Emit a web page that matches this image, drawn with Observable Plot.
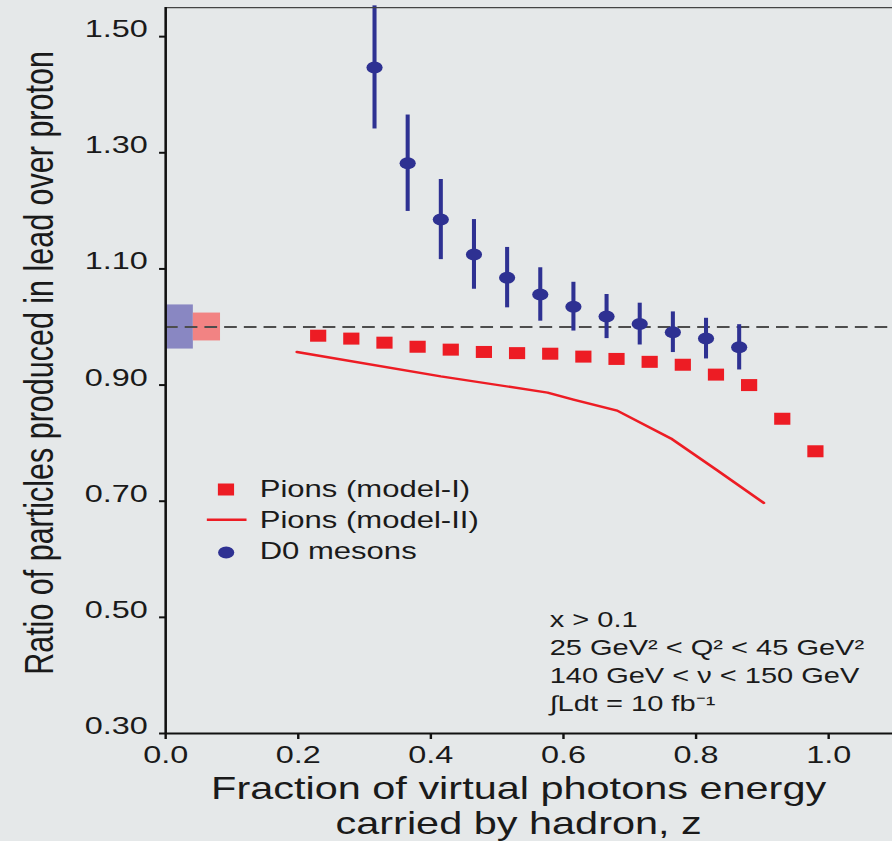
<!DOCTYPE html>
<html>
<head>
<meta charset="utf-8">
<script src="https://cdn.jsdelivr.net/npm/d3@7"></script>
<script src="https://cdn.jsdelivr.net/npm/@observablehq/plot@0.6"></script>
<style>
  html, body { margin: 0; padding: 0; background: #e5e8e9; }
  #chart { width: 892px; height: 841px; overflow: hidden; }
</style>
</head>
<body>
<div id="chart"></div>
<script>
// ---------- data ----------
const pionZ = [0.23, 0.28, 0.33, 0.38, 0.43, 0.48, 0.53, 0.58, 0.63, 0.68, 0.73, 0.78, 0.83, 0.88, 0.93, 0.98];
const pionRatio = [0.985, 0.980, 0.973, 0.966, 0.961, 0.957, 0.955, 0.954, 0.949, 0.945, 0.940, 0.935, 0.918, 0.900, 0.842, 0.786];

const model2Z = [0.198, 0.415, 0.576, 0.615, 0.681, 0.762, 0.832, 0.902];
const model2Ratio = [0.957, 0.915, 0.887, 0.875, 0.856, 0.808, 0.753, 0.697];

const d0Z = [0.315, 0.365, 0.415, 0.465, 0.515, 0.565, 0.615, 0.665, 0.715, 0.765, 0.815, 0.865];
const d0Ratio = [1.447, 1.282, 1.185, 1.125, 1.085, 1.056, 1.035, 1.018, 1.005, 0.991, 0.980, 0.965];
const d0Err = [0.106, 0.083, 0.069, 0.060, 0.052, 0.046, 0.042, 0.038, 0.036, 0.035, 0.035, 0.039];

// normalisation uncertainty boxes (D0, pions)
const normBoxX1 = [0, 0.042];
const normBoxX2 = [0.042, 0.083];
const normBoxLo = [0.962, 0.976];
const normBoxHi = [1.038, 1.024];

const xTicks = [0, 0.2, 0.4, 0.6, 0.8, 1.0];
const yTicks = [0.3, 0.5, 0.7, 0.9, 1.1, 1.3, 1.5];

const legendLabels = ["Pions (model-I)", "Pions (model-II)", "D0 mesons"];
const annotLines = ["x > 0.1", "25 GeV\u00B2 < Q\u00B2 < 45 GeV\u00B2", "140 GeV < \u03BD < 150 GeV", "\u222BLdt = 10 fb\u207B\u00B9"];
const xLabel = "Fraction of virtual photons energy\ncarried by hadron, z";
const yLabel = "Ratio of particles produced in lead over proton";

// ---------- layout ----------
const S = 1.35;            // horizontal stretch of the original figure
const W = 892 / S;
const H = 841;
const ML = 165 / S, MT = 7.1, MB = 108;
const RED = "#ed1c24", BLUE = "#2e3192", INK = "#1a1a1a";

const pions = pionZ.map((z, i) => ({z, r: pionRatio[i]}));
const model2 = model2Z.map((z, i) => ({z, r: model2Ratio[i]}));
const d0 = d0Z.map((z, i) => ({z, r: d0Ratio[i], lo: d0Ratio[i] - d0Err[i], hi: d0Ratio[i] + d0Err[i]}));
const boxes = normBoxX1.map((x1, i) => ({x1, x2: normBoxX2[i], y1: normBoxLo[i], y2: normBoxHi[i]}));

const squareSym = {draw(ctx) { ctx.rect(-6, -6, 12, 12); }};
const hlineSym = {draw(ctx) { ctx.rect(-14.7, -1.25, 29.4, 2.5); }};

const svg = Plot.plot({
  width: W,
  height: H,
  marginLeft: ML,
  marginRight: 0,
  marginTop: MT,
  marginBottom: MB,
  x: {domain: [0, (892 - 165) / 663]},
  y: {domain: [0.3, 1.55]},
  style: {background: "#e5e8e9", fontFamily: "'Liberation Sans', Arial, Helvetica, sans-serif", color: INK, overflow: "visible"},
  marks: [
    Plot.rect([boxes[0]], {x1: "x1", x2: "x2", y1: "y1", y2: "y2", fill: "#8987c2"}),
    Plot.rect([boxes[1]], {x1: "x1", x2: "x2", y1: "y1", y2: "y2", fill: "#f28383"}),
    Plot.ruleY([1], {stroke: "#4d4d4d", strokeWidth: 2, strokeDasharray: "9.4,5.2"}),
    Plot.line(model2, {x: "z", y: "r", stroke: RED, strokeWidth: 2.4}),
    Plot.dot(pions, {x: "z", y: "r", symbol: squareSym, fill: RED, stroke: "none"}),
    Plot.ruleX(d0, {x: "z", y1: "lo", y2: "hi", stroke: BLUE, strokeWidth: 3}),
    Plot.dot(d0, {x: "z", y: "r", r: 6, fill: BLUE, stroke: "none"}),
    // frame lines
    Plot.ruleY([1.55], {stroke: "#444", strokeWidth: 1.2}),
    Plot.ruleX([0], {stroke: "#111", strokeWidth: 1.9}),
    Plot.ruleY([0.3], {stroke: "#111", strokeWidth: 2.2}),
    // axes
    Plot.axisX(xTicks, {tickSize: 6, tickPadding: 6.3, fontSize: 24, tickFormat: d3.format(".1f"), stroke: "#111", strokeWidth: 1.8, fill: INK, label: null}),
    Plot.axisY(yTicks, {tickSize: 4.4, fill: "none", stroke: "#111", strokeWidth: 2, label: null}),
    Plot.axisY(yTicks, {tickSize: 0, tickPadding: 13.3, dy: -7.2, fontSize: 24, tickFormat: d3.format(".2f"), fill: INK, label: null}),
    // axis titles
    Plot.text([xLabel], {text: d => d, frameAnchor: "bottom", textAnchor: "middle", lineAnchor: "bottom", dx: -7.8, dy: 100, fontSize: 30.7, lineHeight: 1.14, fill: INK}),
    Plot.text([yLabel], {text: d => d, frameAnchor: "left", textAnchor: "middle", lineAnchor: "middle", rotate: -90, dx: 28.7 - ML, dy: 362.5 - (MT + (H - MB)) / 2, fontSize: 30.5, fill: INK}),
    // annotation
    Plot.text([annotLines.join("\n")], {text: d => d, frameAnchor: "bottom-left", textAnchor: "start", lineAnchor: "bottom", dx: 549 / S - ML, dy: 710 - (H - MB), fontSize: 21.5, lineHeight: 1.293, fill: INK}),
    // legend
    Plot.dot([0], {frameAnchor: "top-left", dx: 225.3 / S - ML, dy: 489 - MT, symbol: squareSym, fill: RED, stroke: "none"}),
    Plot.dot([0], {frameAnchor: "top-left", dx: 226 / S - ML, dy: 519.3 - MT, symbol: hlineSym, fill: RED, stroke: "none"}),
    Plot.dot([0], {frameAnchor: "top-left", dx: 225.5 / S - ML, dy: 552 - MT, r: 6, fill: BLUE, stroke: "none"}),
    ...legendLabels.map((t, i) => Plot.text([t], {text: d => d, frameAnchor: "top-left", textAnchor: "start", lineAnchor: "middle", dx: 259 / S - ML, dy: 489.2 + i * 31 - MT, fontSize: 23, fill: INK}))
  ]
});

svg.setAttribute("width", 892);
svg.setAttribute("height", H);
svg.setAttribute("preserveAspectRatio", "none");
svg.style.width = "892px";
svg.style.height = H + "px";
svg.style.maxWidth = "none";
document.getElementById("chart").appendChild(svg);
</script>
</body>
</html>
